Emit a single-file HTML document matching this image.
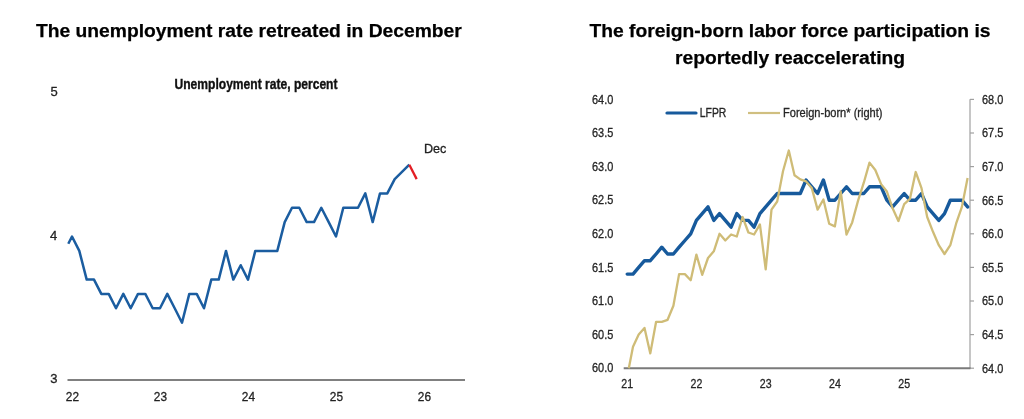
<!DOCTYPE html>
<html><head><meta charset="utf-8">
<style>
html,body{margin:0;padding:0;background:#fff;}
body{width:1024px;height:419px;overflow:hidden;}
svg{display:block;will-change:transform;font-family:"Liberation Sans",sans-serif;}
</style></head><body>
<svg width="1024" height="419" viewBox="0 0 1024 419">
<rect width="1024" height="419" fill="#fff"/>
<g font-weight="bold" fill="#000" font-size="19.25" stroke="#000" stroke-width="0.25">
<text x="36" y="36.7">The unemployment rate retreated in December</text>
<text x="790" y="36.7" text-anchor="middle">The foreign-born labor force participation is</text>
<text x="790" y="64.3" text-anchor="middle">reportedly reaccelerating</text>
</g>
<text x="174.5" y="89.4" font-weight="bold" font-size="13.9" fill="#111" stroke="#111" stroke-width="0.35" textLength="163" lengthAdjust="spacingAndGlyphs">Unemployment rate, percent</text>
<g font-size="13" fill="#222" stroke="#222" stroke-width="0.3">
<text x="50.5" y="96.2">5</text>
<text x="50" y="240.3">4</text>
<text x="50.2" y="383.2">3</text>
<text x="65.8" y="400.8" font-size="13.5" textLength="13.2" lengthAdjust="spacingAndGlyphs">22</text><text x="153.8" y="400.8" font-size="13.5" textLength="13.2" lengthAdjust="spacingAndGlyphs">23</text><text x="241.8" y="400.8" font-size="13.5" textLength="13.2" lengthAdjust="spacingAndGlyphs">24</text><text x="329.8" y="400.8" font-size="13.5" textLength="13.2" lengthAdjust="spacingAndGlyphs">25</text><text x="417.8" y="400.8" font-size="13.5" textLength="13.2" lengthAdjust="spacingAndGlyphs">26</text>
<text x="424" y="153" font-size="12.6">Dec</text>
</g>
<line x1="67.5" y1="380" x2="465" y2="380" stroke="#808080" stroke-width="2"/>
<polyline points="68.3,243.7 72.0,236.5 79.3,250.9 86.7,279.6 94.0,279.6 101.3,293.9 108.7,293.9 116.0,308.3 123.3,293.9 130.7,308.3 138.0,293.9 145.3,293.9 152.7,308.3 160.0,308.3 167.3,293.9 174.7,308.3 182.0,322.7 189.3,293.9 196.7,293.9 204.0,308.3 211.3,279.6 218.7,279.6 226.0,250.9 233.3,279.6 240.7,265.2 248.0,279.6 255.3,250.9 262.7,250.9 270.0,250.9 277.3,250.9 284.7,222.1 292.0,207.8 299.3,207.8 306.7,222.1 314.0,222.1 321.3,207.8 328.7,222.1 336.0,236.5 343.3,207.8 350.7,207.8 358.0,207.8 365.3,193.4 372.7,222.1 380.0,193.4 387.3,193.4 394.7,179.1 409.3,164.7" fill="none" stroke="#1b5da0" stroke-width="2.5" stroke-linejoin="round"/>
<polyline points="409.3,164.7 416.7,179.1" fill="none" stroke="#e31e24" stroke-width="2.3"/>

<g font-size="11" fill="#262626" stroke="#262626" stroke-width="0.3">
<text x="613.3" y="372.3" text-anchor="end" font-size="12.2" textLength="21.3" lengthAdjust="spacingAndGlyphs">60.0</text><text x="613.3" y="338.7" text-anchor="end" font-size="12.2" textLength="21.3" lengthAdjust="spacingAndGlyphs">60.5</text><text x="613.3" y="305.1" text-anchor="end" font-size="12.2" textLength="21.3" lengthAdjust="spacingAndGlyphs">61.0</text><text x="613.3" y="271.5" text-anchor="end" font-size="12.2" textLength="21.3" lengthAdjust="spacingAndGlyphs">61.5</text><text x="613.3" y="237.9" text-anchor="end" font-size="12.2" textLength="21.3" lengthAdjust="spacingAndGlyphs">62.0</text><text x="613.3" y="204.3" text-anchor="end" font-size="12.2" textLength="21.3" lengthAdjust="spacingAndGlyphs">62.5</text><text x="613.3" y="170.7" text-anchor="end" font-size="12.2" textLength="21.3" lengthAdjust="spacingAndGlyphs">63.0</text><text x="613.3" y="137.1" text-anchor="end" font-size="12.2" textLength="21.3" lengthAdjust="spacingAndGlyphs">63.5</text><text x="613.3" y="103.5" text-anchor="end" font-size="12.2" textLength="21.3" lengthAdjust="spacingAndGlyphs">64.0</text>
<text x="982" y="372.5" font-size="12.2" textLength="21.3" lengthAdjust="spacingAndGlyphs">64.0</text><text x="982" y="338.9" font-size="12.2" textLength="21.3" lengthAdjust="spacingAndGlyphs">64.5</text><text x="982" y="305.3" font-size="12.2" textLength="21.3" lengthAdjust="spacingAndGlyphs">65.0</text><text x="982" y="271.7" font-size="12.2" textLength="21.3" lengthAdjust="spacingAndGlyphs">65.5</text><text x="982" y="238.1" font-size="12.2" textLength="21.3" lengthAdjust="spacingAndGlyphs">66.0</text><text x="982" y="204.5" font-size="12.2" textLength="21.3" lengthAdjust="spacingAndGlyphs">66.5</text><text x="982" y="170.9" font-size="12.2" textLength="21.3" lengthAdjust="spacingAndGlyphs">67.0</text><text x="982" y="137.3" font-size="12.2" textLength="21.3" lengthAdjust="spacingAndGlyphs">67.5</text><text x="982" y="103.7" font-size="12.2" textLength="21.3" lengthAdjust="spacingAndGlyphs">68.0</text>
<text x="621.3" y="388.2" font-size="12" textLength="11.8" lengthAdjust="spacingAndGlyphs">21</text><text x="690.6" y="388.2" font-size="12" textLength="11.8" lengthAdjust="spacingAndGlyphs">22</text><text x="759.8" y="388.2" font-size="12" textLength="11.8" lengthAdjust="spacingAndGlyphs">23</text><text x="829.1" y="388.2" font-size="12" textLength="11.8" lengthAdjust="spacingAndGlyphs">24</text><text x="898.3" y="388.2" font-size="12" textLength="11.8" lengthAdjust="spacingAndGlyphs">25</text>
<text x="699.8" y="117" font-size="12" textLength="26.6" lengthAdjust="spacingAndGlyphs">LFPR</text>
<text x="783" y="117" font-size="12" textLength="99.5" lengthAdjust="spacingAndGlyphs">Foreign-born* (right)</text>
</g>
<line x1="667" y1="113" x2="696" y2="113" stroke="#175a9c" stroke-width="3.2" stroke-linecap="round"/>
<line x1="748" y1="113" x2="780" y2="113" stroke="#d0bf80" stroke-width="2.2"/>
<g stroke="#a0a0a0" stroke-width="1.2">
<line x1="970" y1="99.3" x2="970" y2="368"/>
<line x1="970" y1="368.2" x2="974" y2="368.2"/><line x1="970" y1="334.6" x2="974" y2="334.6"/><line x1="970" y1="301.0" x2="974" y2="301.0"/><line x1="970" y1="267.4" x2="974" y2="267.4"/><line x1="970" y1="233.8" x2="974" y2="233.8"/><line x1="970" y1="200.2" x2="974" y2="200.2"/><line x1="970" y1="166.6" x2="974" y2="166.6"/><line x1="970" y1="133.0" x2="974" y2="133.0"/><line x1="970" y1="99.4" x2="974" y2="99.4"/>
</g>
<line x1="623.7" y1="368.2" x2="970.5" y2="368.2" stroke="#7a7a7a" stroke-width="2"/>
<polyline points="627.2,274.1 633.0,274.1 638.7,267.4 644.5,260.7 650.3,260.7 656.1,254.0 661.8,247.2 667.6,254.0 673.4,254.0 679.1,247.2 684.9,240.5 690.7,233.8 696.4,220.4 702.2,213.6 708.0,206.9 713.8,220.4 719.5,213.6 725.3,220.4 731.1,227.1 736.8,213.6 742.6,220.4 748.4,220.4 754.1,227.1 759.9,213.6 765.7,206.9 771.5,200.2 777.2,193.5 783.0,193.5 788.8,193.5 794.5,193.5 800.3,193.5 806.1,180.0 811.8,186.8 817.6,193.5 823.4,180.0 829.2,200.2 834.9,200.2 840.7,193.5 846.5,186.8 852.2,193.5 858.0,193.5 863.8,193.5 869.5,186.8 875.3,186.8 881.1,186.8 886.9,200.2 892.6,206.9 898.4,200.2 904.2,193.5 909.9,200.2 915.7,200.2 921.5,193.5 927.2,206.9 933.0,213.6 938.8,220.4 944.5,213.6 950.3,200.2 956.1,200.2 961.9,200.2 967.6,206.9" fill="none" stroke="#175a9c" stroke-width="3.4" stroke-linejoin="round" stroke-linecap="round"/>
<polyline points="628.8,368.2 633.0,346.7 638.7,334.6 644.5,327.9 650.3,353.4 656.1,321.8 661.8,321.8 667.6,319.8 673.4,305.7 679.1,274.1 684.9,274.1 690.7,280.2 696.4,254.6 702.2,274.8 708.0,258.0 713.8,251.3 719.5,233.8 725.3,240.5 731.1,234.5 736.8,236.5 742.6,217.0 748.4,232.5 754.1,234.5 759.9,224.4 765.7,269.4 771.5,209.6 777.2,201.5 783.0,171.3 788.8,150.5 794.5,175.3 800.3,179.4 806.1,181.4 811.8,188.1 817.6,209.6 823.4,199.5 829.2,223.7 834.9,226.4 840.7,191.5 846.5,234.5 852.2,222.4 858.0,200.9 863.8,182.7 869.5,162.6 875.3,170.0 881.1,184.1 886.9,191.5 892.6,208.3 898.4,221.0 904.2,204.2 909.9,198.9 915.7,172.0 921.5,188.1 927.2,217.0 933.0,231.8 938.8,245.2 944.5,254.0 950.3,245.2 956.1,223.7 961.9,206.9 967.6,178.0" fill="none" stroke="#cfbc77" stroke-width="2.3" stroke-linejoin="round"/>
</svg>
</body></html>
